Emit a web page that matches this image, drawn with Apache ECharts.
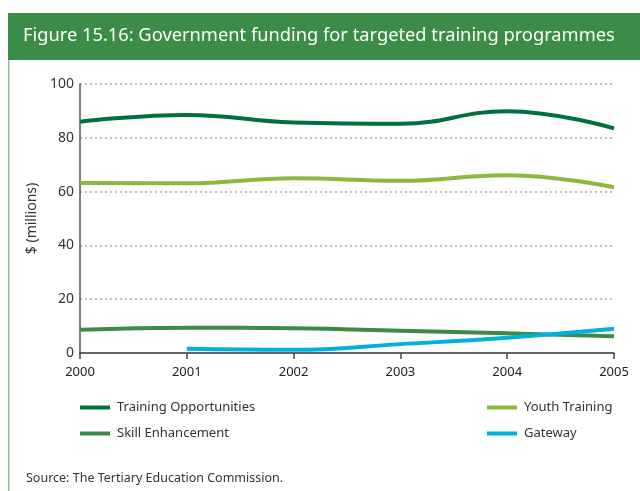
<!DOCTYPE html>
<html>
<head>
<meta charset="utf-8">
<script src="https://cdn.jsdelivr.net/npm/echarts@6/dist/echarts.min.js"></script>
<style>
  html, body { margin: 0; padding: 0; background: #fff; }
  #chart { width: 640px; height: 491px; }
</style>
</head>
<body>
<div id="chart"></div>
<script>
// Funding by programme, $ millions, 2000–2005
const years = ['2000', '2001', '2002', '2003', '2004', '2005'];
const trainingOpportunities = [86.0, 88.5, 85.7, 85.2, 89.9, 83.5];
const youthTraining = [63.2, 63.1, 65.0, 64.0, 66.1, 61.6];
const skillEnhancement = [8.6, 9.4, 9.2, 8.3, 7.3, 6.2];
const gateway = [null, 1.6, 1.2, 3.3, 5.7, 9.0];
const yTicks = [0, 20, 40, 60, 80, 100];

const colors = {
  to: '#00703f',
  yt: '#8cb83e',
  se: '#3d8b47',
  gw: '#00b1db'
};

const FONT = '"Noto Sans", "Liberation Sans", Arial, sans-serif';

const chart = echarts.init(document.getElementById('chart'), null, { renderer: 'canvas' });

function lineSeries(name, data, color) {
  return {
    name: name,
    type: 'line',
    data: data,
    smooth: 0.45,
    symbol: 'none',
    connectNulls: false,
    lineStyle: { color: color, width: 4 },
    itemStyle: { color: color },
    emphasis: { disabled: true }
  };
}

const legendBase = {
  orient: 'vertical',
  icon: 'rect',
  itemWidth: 30,
  itemHeight: 4,
  itemGap: 13,
  selectedMode: false,
  textStyle: { color: '#333', fontSize: 13, fontFamily: FONT, padding: [0, 0, 0, 2] },
  padding: 0
};

chart.setOption({
  animation: false,
  backgroundColor: '#ffffff',
  graphic: [
    { type: 'rect', shape: { x: 8, y: 13, width: 632, height: 47 }, style: { fill: '#3b8c47' } },
    { type: 'rect', shape: { x: 8, y: 60, width: 1.5, height: 431 }, style: { fill: '#8cc292' } },
    {
      type: 'text', left: 23, top: 27,
      style: {
        text: 'Figure 15.16: Government funding for targeted training programmes',
        fill: '#ffffff', font: '18.3px ' + FONT
      }
    },
    {
      type: 'text', left: 26, top: 472,
      style: {
        text: 'Source: The Tertiary Education Commission.',
        fill: '#333333', font: '12.5px ' + FONT
      }
    }
  ],
  grid: { left: 80, right: 26, top: 84, bottom: 138, containLabel: false },
  legend: [
    Object.assign({}, legendBase, { left: 80, top: 401, data: ['Training Opportunities', 'Skill Enhancement'] }),
    Object.assign({}, legendBase, { left: 487, top: 401, data: ['Youth Training', 'Gateway'] })
  ],
  xAxis: {
    type: 'category',
    data: years,
    boundaryGap: false,
    axisLine: { lineStyle: { color: '#333', width: 1.5 } },
    axisTick: { show: true, length: 6, lineStyle: { color: '#444', width: 1.5 } },
    axisLabel: { color: '#222', fontSize: 13, margin: 13, fontFamily: FONT },
    splitLine: { show: false }
  },
  yAxis: {
    type: 'value',
    min: yTicks[0],
    max: yTicks[yTicks.length - 1],
    interval: 20,
    name: '$ (millions)',
    nameLocation: 'middle',
    nameGap: 36,
    nameRotate: 90,
    nameTextStyle: { color: '#333', fontSize: 14, fontFamily: FONT },
    axisLine: { show: true, lineStyle: { color: '#555', width: 1.5 } },
    axisTick: { show: false },
    axisLabel: { color: '#333', fontSize: 14, margin: 6, fontFamily: FONT },
    splitLine: {
      show: true,
      showMinLine: false,
      lineStyle: { color: '#aaaaaa', width: 1.5, type: [2, 3] }
    }
  },
  series: [
    lineSeries('Training Opportunities', trainingOpportunities, colors.to),
    lineSeries('Youth Training', youthTraining, colors.yt),
    lineSeries('Skill Enhancement', skillEnhancement, colors.se),
    lineSeries('Gateway', gateway, colors.gw)
  ]
});
</script>
</body>
</html>
